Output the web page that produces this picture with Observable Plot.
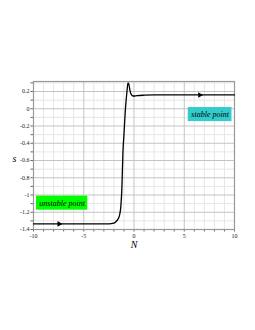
<!DOCTYPE html>
<html><head><meta charset="utf-8">
<script src="https://cdn.jsdelivr.net/npm/d3@7"></script>
<script src="https://cdn.jsdelivr.net/npm/@observablehq/plot@0.6"></script>
<style>body{margin:0;background:#fff}svg{display:block}</style>
</head><body><div id="chart"></div>
<script>
const N = [-10, -6, -2.5, -2.0, -1.8, -1.6, -1.45, -1.3, -1.2, -1.1, -1.0, -0.85, -0.7, -0.6, -0.5, -0.4, -0.25, -0.1, 0.0, 0.3, 1, 2, 6, 10];
const S = [-1.335, -1.335, -1.334, -1.325, -1.31, -1.28, -1.24, -1.12, -0.9, -0.5, -0.3, 0.0, 0.2, 0.30, 0.28, 0.21, 0.16, 0.148, 0.148, 0.152, 0.157, 0.16, 0.16, 0.16];
const arrowN = [-7.45, 6.55];
const arrowS = [-1.335, 0.16];
const labels = ["unstable point", "stable point"];
const labelN1 = [-9.7, 5.4];
const labelN2 = [-4.6, 9.75];
const labelS1 = [-1.013, 0.014];
const labelS2 = [-1.176, -0.149];
const labelFill = ["#00ff00", "#33cccc"];
const xTicks = d3.range(-10, 11, 1);
const yTicks = d3.range(-14, 4, 1).map(d => d / 10);
const xLabelTicks = [-10, -5, 0, 5, 10];
const yLabelTicks = [-1.4, -1.2, -1, -0.8, -0.6, -0.4, -0.2, 0, 0.2];

const curve = N.map((n, i) => ({N: n, s: S[i]}));
const arrows = arrowN.map((n, i) => ({N: n, s: arrowS[i]}));
const boxes = labels.map((t, i) => ({t, x1: labelN1[i], x2: labelN2[i], y1: labelS1[i], y2: labelS2[i], fill: labelFill[i]}));
const serif = "'Liberation Serif', 'DejaVu Serif', serif";
const isMaj = (v, arr) => arr.some(a => Math.abs(a - v) < 1e-9);

const chart = Plot.plot({
  width: 255, height: 330,
  marginLeft: 33, marginRight: 21, marginTop: 81, marginBottom: 101,
  style: {fontFamily: serif, fontSize: "6px", background: "#fff", color: "#222"},
  x: {domain: [-10, 10]},
  y: {domain: [-1.4, 0.316]},
  marks: [
    Plot.gridX(xTicks.filter(v => !isMaj(v, xLabelTicks)), {stroke: "#e6e6e6", strokeOpacity: 1}),
    Plot.gridY(yTicks.filter(v => !isMaj(v, yLabelTicks)), {stroke: "#e6e6e6", strokeOpacity: 1}),
    Plot.gridX(xLabelTicks, {stroke: "#c4c4c4", strokeOpacity: 1}),
    Plot.gridY(yLabelTicks, {stroke: "#c4c4c4", strokeOpacity: 1}),
    Plot.axisX(xTicks, {tickSize: 2.5, tickPadding: 1.5, stroke: "#666", fill: "#222", label: null,
      tickFormat: v => isMaj(v, xLabelTicks) ? String(v) : ""}),
    Plot.axisY(yTicks, {tickSize: 2.5, tickPadding: 1.5, stroke: "#666", fill: "#222", label: null,
      tickFormat: v => isMaj(v, yLabelTicks) ? String(Math.round(v * 10) / 10) : ""}),
    Plot.frame({stroke: "#999", strokeWidth: 1.2}),
    Plot.line(curve, {x: "N", y: "s", stroke: "#000", strokeWidth: 1.3, curve: "monotone-x"}),
    Plot.dot(arrows, {x: "N", y: "s", symbol: "triangle", rotate: 90, r: 2.1, fill: "#000", stroke: "none"}),
    Plot.rect(boxes, {x1: "x1", x2: "x2", y1: "y1", y2: "y2", fill: "fill"}),
    Plot.text(boxes, {x: d => (d.x1 + d.x2) / 2, y: d => (d.y1 + d.y2) / 2, text: "t", fontStyle: "italic", fontSize: 8, fill: "#000"}),
    Plot.text(["s"], {frameAnchor: "left", dx: -21, dy: 3, fontStyle: "italic", fontSize: 10, fill: "#000"}),
    Plot.text(["N"], {frameAnchor: "bottom", dy: 18, fontStyle: "italic", fontSize: 10, fill: "#000"})
  ]
});
document.getElementById("chart").appendChild(chart);
</script></body></html>
